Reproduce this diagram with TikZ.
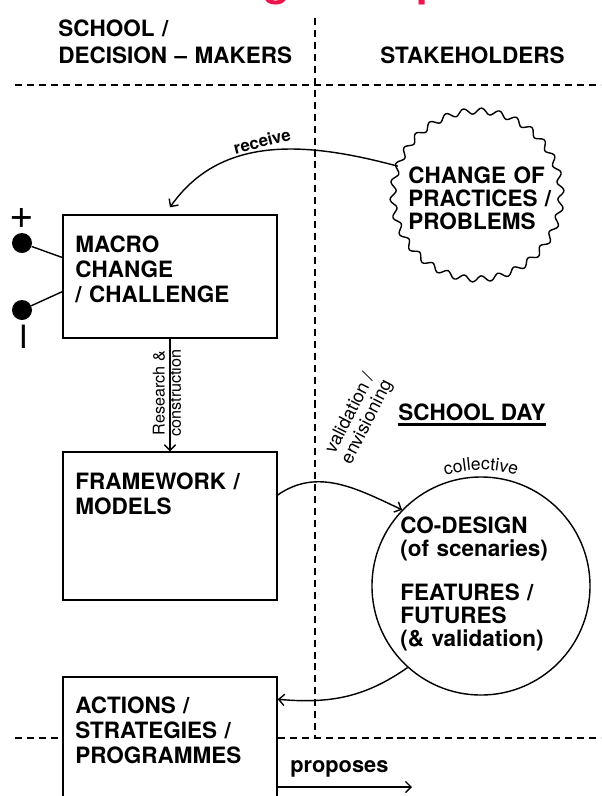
\documentclass[tikz,border=0pt]{standalone}
\usepackage{fontspec}
\setmainfont{TeX Gyre Heros}
\usetikzlibrary{arrows.meta,decorations.text}
\definecolor{titlered}{RGB}{236,22,76}

\begin{document}
\begin{tikzpicture}[x=0.025cm, y=0.025cm,
    box/.style={draw, line width=1pt, fill=white, inner sep=0pt},
    head/.style={anchor=base west, inner sep=0pt, font=\bfseries\fontsize{16}{18}\selectfont},
    block/.style={head, align=left, text width=7cm},
    lbl/.style={inner sep=0pt, font=\fontsize{11.5}{11.5}\selectfont},
    arr/.style={line width=1pt, -{Straight Barb[length=4pt, width=8pt]}},
    divider/.style={line width=1.3pt, dash pattern=on 5pt off 3.5pt},
    dot/.style={circle, fill=black, inner sep=0pt, minimum size=0.5cm}]

    \useasboundingbox (0,0) rectangle (601,-796);
    \clip (0,0) rectangle (601,-796);

    % Title, cut by the top edge
    \node[anchor=base west, inner sep=0pt, text=titlered, font=\bfseries\fontsize{31}{31}\selectfont] (titleg) at (263,5) {g};
    \node[anchor=base west, inner sep=0pt, text=titlered, font=\bfseries\fontsize{31}{31}\selectfont] (titlep) at (416,5) {p};

    % Dividers
    \draw[divider] (15,-85) -- (601,-85);
    \draw[divider] (315,-18) -- (315,-738);
    \draw[divider] (15,-738) -- (601,-738);

    % Column heads
    \node[block, font=\bfseries\fontsize{16}{19.2}\selectfont] (school) at (58,-36) {SCHOOL /\\DECISION -- MAKERS};
    \node[head] (stake) at (380,-63) {STAKEHOLDERS};

    % Boxes
    \node[box, minimum width=5.35cm, minimum height=3.075cm] (macro) at (170,-276.5) {};
    \node[block] (macrotxt) at (75,-252) {MACRO\\CHANGE\\/ CHALLENGE};
    \node[box, minimum width=5.35cm, minimum height=3.7cm] (frame) at (170,-526) {};
    \node[block] (frametxt) at (75,-489) {FRAMEWORK /\\MODELS};
    \node[box, minimum width=5.35cm, minimum height=3.825cm] (actions) at (170,-753.5) {};
    \node[block] (actionstxt) at (75,-713) {ACTIONS /\\STRATEGIES /\\PROGRAMMES};

    % Plus and minus
    \node[inner sep=0pt, font=\fontsize{30}{30}\selectfont] (plus) at (22,-218) {+};
    \node[dot] (plusdot) at (22,-243) {};
    \node[dot] (minusdot) at (22,-310) {};
    \node[inner sep=0pt, rotate=90, font=\fontsize{30}{30}\selectfont] (minus) at (29,-337) {--};
    \draw[line width=1pt] (plusdot) -- (macro.170);
    \draw[line width=1pt] (minusdot) -- (macro.188);

    % Change of practices
    \node[circle, minimum size=4.2cm, inner sep=0pt] (chg) at (477,-195) {};
    \draw[line width=1pt, shift={(chg.center)}] plot[domain=0:360, samples=361, variable=\t] (\t:{84+3*sin(30*\t)}) -- cycle;
    \node[block, font=\bfseries\fontsize{16}{16.4}\selectfont] (chgtxt) at (408,-183) {CHANGE OF\\PRACTICES /\\PROBLEMS};

    % School day
    \node[head] (sday) at (398,-420) {SCHOOL DAY};
    \draw[line width=2pt] ([yshift=-3.2pt]sday.base west) -- ([yshift=-3.2pt]sday.base east);
    \node[draw, circle, line width=1pt, minimum size=5.45cm, inner sep=0pt] (codesign) at (481,-586) {};
    \node[block, font=\bfseries\fontsize{16}{16.4}\selectfont] (codesigntxt) at (400,-533) {CO-DESIGN\\(of scenaries)\\[15pt]FEATURES /\\FUTURES\\(\& validation)};
    \path[decorate, decoration={text along path, text={|\fontsize{12.5}{12.5}\selectfont|collective}, text align=center}] (codesign.center) ++(115:116) arc[start angle=115, end angle=65, radius=116];

    % Labels
    \node[lbl, rotate=90, align=center] (research) at (167,-393) {Research \&\\construction};
    \node[lbl, rotate=63, align=center, font=\fontsize{13}{13.5}\selectfont] (valid) at (359,-418) {validation /\\envisioning};
    \node[inner sep=0pt, rotate=14, font=\bfseries\fontsize{12}{12}\selectfont] (receive) at (262,-141) {receive};
    \node[anchor=base west, inner sep=0pt, font=\bfseries\fontsize{15.5}{15.5}\selectfont] (proposes) at (290,-772) {proposes};
    \coordinate (propend) at (412,-787);

    % Arrows
    \draw[arr] (chg.160) to[out=165, in=55] ([yshift=0.175cm]macro.north);
    \draw[arr] (macro.south) -- (frame.north);
    \draw[arr] ([yshift=0.775cm]frame.east) to[out=35, in=155] (codesign.136);
    \draw[arr] (codesign.228) to[out=215, in=-5] ([yshift=-0.575cm]actions.north east);
    \draw[arr] (actions.east |- propend) -- (propend);
\end{tikzpicture}
\end{document}
